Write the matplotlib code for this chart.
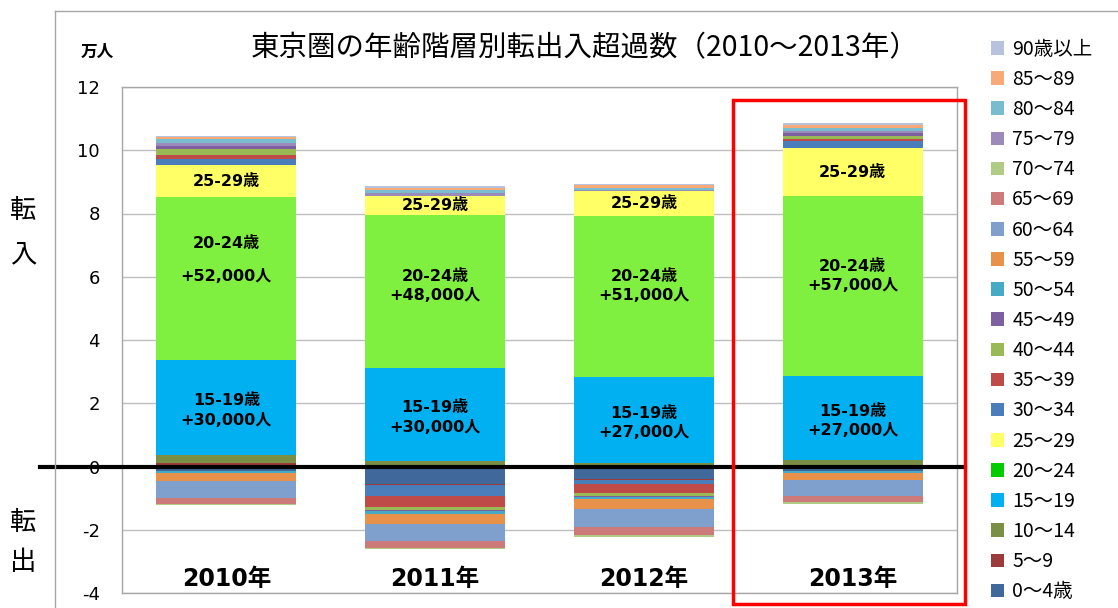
import matplotlib
matplotlib.use('Agg')
import matplotlib.pyplot as plt
from matplotlib.patches import Patch, Rectangle
import numpy as np

plt.rcParams['font.family'] = ['Noto Sans CJK JP', 'DejaVu Sans']
plt.rcParams['axes.unicode_minus'] = False
LATIN = ['DejaVu Sans', 'Noto Sans CJK JP']

years = ['2010年', '2011年', '2012年', '2013年']
ages = ['0〜4歳', '5〜9', '10〜14', '15〜19', '20〜24', '25〜29', '30〜34',
        '35〜39', '40〜44', '45〜49', '50〜54', '55〜59', '60〜64', '65〜69',
        '70〜74', '75〜79', '80〜84', '85〜89', '90歳以上']

# 万人, one list per year in the order of ages
v2010 = [-0.15, 0.12, 0.23, 3.03, 5.14, 1.01, 0.19, 0.13, 0.19, 0.09, -0.04,
         -0.27, -0.55, -0.16, -0.05, 0.09, 0.13, 0.07, 0.03]
v2011 = [-0.55, -0.04, 0.17, 2.95, 4.83, 0.61, -0.35, -0.35, -0.07, -0.06, -0.09,
         -0.32, -0.53, -0.21, -0.05, 0.09, 0.10, 0.07, 0.05]
v2012 = [-0.38, -0.05, 0.12, 2.72, 5.08, 0.79, -0.13, -0.29, -0.08, -0.04, -0.06,
         -0.30, -0.58, -0.25, -0.06, 0.02, 0.08, 0.08, 0.05]
v2013 = [-0.15, 0.05, 0.16, 2.66, 5.68, 1.52, 0.22, 0.075, 0.075, 0.11, -0.07,
         -0.20, -0.52, -0.19, -0.07, 0.07, 0.085, 0.10, 0.07]

bar_colors = ['#41689A', '#9B3C3A', '#7A8F45', '#00B0F0', '#80F040', '#FFFF66',
              '#4A7EBB', '#BE4B48', '#98B954', '#7D60A0', '#46AAC5', '#E8914A',
              '#7F9FCC', '#CC7B7A', '#AFCB85', '#9C8BBA', '#78BDCF', '#F7AA78',
              '#B7C3DD']
legend_colors = bar_colors.copy()
legend_colors[4] = '#00CC00'

labels_2529 = ['25-29歳'] * 4
labels_2024 = ['20-24歳\n+52,000人', '20-24歳\n+48,000人', '20-24歳\n+51,000人', '20-24歳\n+57,000人']
labels_1519 = ['15-19歳\n+30,000人', '15-19歳\n+30,000人', '15-19歳\n+27,000人', '15-19歳\n+27,000人']
# the 20-24 labels were placed by hand in the original
y_2024 = [6.53, 5.71, 5.71, 6.03]
gap_2024 = [2.45, 1.37, 1.37, 1.37]

data = np.array([v2010, v2011, v2012, v2013]).T
x = np.arange(len(years))

fig = plt.figure(figsize=(11.18, 6.08), dpi=100)
ax = fig.add_axes([122 / 1118, 15 / 608, 835 / 1118, 506 / 608])

pos = np.zeros(len(years))
neg = np.zeros(len(years))
seg_mid = {}
for i, row in enumerate(data):
    bottoms = np.where(row >= 0, pos, neg)
    ax.bar(x, row, 0.67, bottom=bottoms, color=bar_colors[i], linewidth=0, zorder=2)
    seg_mid[i] = bottoms + row / 2
    pos = np.where(row >= 0, pos + row, pos)
    neg = np.where(row < 0, neg + row, neg)

for j in x:
    ax.text(j, seg_mid[5][j], labels_2529[j], ha='center', va='center', family=LATIN,
            fontsize=11.5, fontweight='bold', zorder=3)
    ax.text(j, y_2024[j], labels_2024[j], ha='center', va='center', family=LATIN,
            fontsize=11.5, fontweight='bold', linespacing=gap_2024[j], zorder=3)
    ax.text(j, seg_mid[3][j] - 0.1, labels_1519[j], ha='center', va='center', family=LATIN,
            fontsize=11.5, fontweight='bold', linespacing=1.37, zorder=3)
    ax.text(j, -3.56, years[j], ha='center', va='center', fontsize=17, family=LATIN,
            fontweight='bold', zorder=3)

ax.set_xlim(-0.5, 3.5)
ax.set_ylim(-4, 12)
ax.set_yticks(range(-4, 13, 2))
ax.set_xticks([])
ax.tick_params(axis='y', length=0, pad=16, labelsize=13)
for lab in ax.get_yticklabels():
    lab.set_family(['DejaVu Sans'])
ax.grid(axis='y', color='#BFBFBF', linewidth=1, zorder=0)
ax.set_axisbelow(True)
for s in ax.spines.values():
    s.set_color('#A6A6A6')
    s.set_linewidth(1)

# zero line, running past the axis to the left
ax.axhline(0, xmin=-0.098, xmax=1.01, color='black', linewidth=3, clip_on=False, zorder=4)

# highlight box around 2013
ax.add_patch(Rectangle((2.428, -4.35), 1.111, 15.95, fill=False, edgecolor='#FF0000',
                       linewidth=2.5, clip_on=False, zorder=5))

fig.text(585 / 1118, 1 - 48 / 608, '東京圏の年齢階層別転出入超過数（2010〜2013年）',
         ha='center', va='center', fontsize=20.5)
fig.text(97 / 1118, 1 - 52 / 608, '万人', ha='center', va='center', fontsize=12,
         fontweight='bold')
for txt, yy in [('転', 210), ('入', 255), ('転', 522), ('出', 562)]:
    fig.text(23 / 1118, 1 - yy / 608, txt, ha='center', va='center', fontsize=19)

# outer chart border
fig.add_artist(plt.Line2D([55 / 1118, 1.0], [1 - 11 / 608] * 2, color='#A6A6A6', linewidth=1))
fig.add_artist(plt.Line2D([55 / 1118] * 2, [0.0, 1 - 11 / 608], color='#A6A6A6', linewidth=1))

handles = [Patch(facecolor=legend_colors[i], edgecolor='none') for i in range(len(ages))][::-1]
fig.legend(handles, ages[::-1], loc='upper left', bbox_to_anchor=(983 / 1118, 1 - 31 / 608),
           frameon=False, fontsize=14, handlelength=0.7, handleheight=0.7,
           handletextpad=0.4, labelspacing=0.47, borderaxespad=0)

fig.savefig('out.png', dpi=100)
